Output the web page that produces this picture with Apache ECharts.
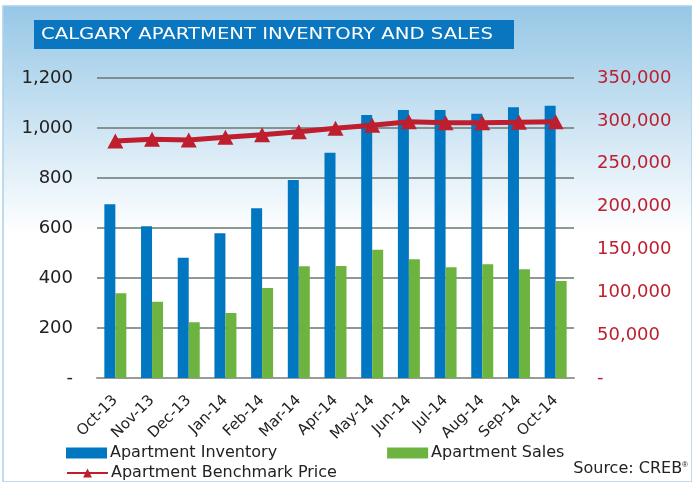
<!DOCTYPE html>
<html>
<head>
<meta charset="utf-8">
<script src="https://cdn.jsdelivr.net/npm/echarts@6/dist/echarts.min.js"></script>
<style>
  html, body { margin: 0; padding: 0; background: #fff; }
  #main { width: 692px; height: 482px; }
</style>
</head>
<body>
<div id="main"></div>
<script>
  // data
  var months = ['Oct-13', 'Nov-13', 'Dec-13', 'Jan-14', 'Feb-14', 'Mar-14', 'Apr-14',
                'May-14', 'Jun-14', 'Jul-14', 'Aug-14', 'Sep-14', 'Oct-14'];
  var inventory = [695, 607, 481, 579, 679, 792, 901, 1052, 1072, 1072, 1057, 1083, 1089];
  var sales = [339, 305, 223, 260, 360, 447, 448, 513, 475, 443, 455, 435, 388];
  var benchmarkPrice = [276500, 278500, 277700, 280800, 283900, 287400, 291300,
                        294800, 299000, 297900, 297900, 298300, 299000];

  var font = 'DejaVu Sans';

  function commas(v) {
    if (v === 0) return '-';
    return String(v).replace(/\B(?=(\d{3})+(?!\d))/g, ',');
  }

  var myChart = echarts.init(document.getElementById('main'));

  myChart.setOption({
    backgroundColor: '#fff',
    animation: false,
    textStyle: { fontFamily: font },
    graphic: [
      // panel with the blue fade
      {
        type: 'rect', z: -10, silent: true,
        shape: { x: 3, y: 6, width: 689, height: 476 },
        style: {
          fill: new echarts.graphic.LinearGradient(0, 0, 0, 1, [
            { offset: 0, color: '#96c7e6' },
            { offset: 0.48, color: '#ffffff' },
            { offset: 1, color: '#ffffff' }
          ]),
          stroke: '#a9d1ec', lineWidth: 1.5
        }
      },
      // title box
      {
        type: 'rect', z: 10,
        shape: { x: 34, y: 20, width: 480, height: 29 },
        style: { fill: '#0a76bf' }
      },
      {
        type: 'text', z: 11, x: 41, y: 35, scaleX: 1.19,
        style: {
          text: 'CALGARY APARTMENT INVENTORY AND SALES',
          fill: '#fff', font: '16.5px "DejaVu Sans"', verticalAlign: 'middle'
        }
      },
      {
        type: 'text', z: 11, right: 4, top: 461,
        style: {
          text: 'Source: CREB{s|®}',
          fill: '#222', font: '16px "DejaVu Sans"',
          rich: { s: { fontSize: 8, verticalAlign: 'top', fill: '#222', padding: [0, 0, 8, 0] } }
        }
      }
    ],
    grid: { left: 97, right: 118, top: 78, bottom: 104 },
    legend: [
      {
        left: 66, top: 445, padding: 0, itemWidth: 41, itemHeight: 11, itemGap: 110,
        textStyle: { fontSize: 16, color: '#222', padding: [0, 0, 0, -2] },
        data: [{ name: 'Apartment Inventory', icon: 'rect' }, { name: 'Apartment Sales', icon: 'rect' }]
      },
      {
        left: 66, top: 465, padding: 0, itemWidth: 41, itemHeight: 11,
        textStyle: { fontSize: 16, color: '#222', padding: [0, 0, 0, -2] },
        data: ['Apartment Benchmark Price']
      }
    ],
    xAxis: {
      type: 'category',
      data: months,
      axisLine: { lineStyle: { color: '#9a9a9a', width: 2 } },
      axisTick: { show: false },
      axisLabel: { rotate: 45, fontSize: 15, color: '#222', margin: 20, interval: 0 }
    },
    yAxis: [
      {
        type: 'value', min: 0, max: 1200, interval: 200,
        axisLine: { show: false }, axisTick: { show: false },
        axisLabel: { fontSize: 18, color: '#222', margin: 24, formatter: commas },
        splitLine: { lineStyle: { color: '#687770', width: 1.5 } }
      },
      {
        type: 'value', min: 0, max: 350000, interval: 50000,
        axisLine: { show: false }, axisTick: { show: false },
        axisLabel: { fontSize: 18, color: '#be1e2d', margin: 23, formatter: commas },
        splitLine: { show: false }
      }
    ],
    series: [
      {
        name: 'Apartment Inventory', type: 'bar', data: inventory,
        barWidth: 11, barGap: '0%',
        itemStyle: { color: '#0077c0' }
      },
      {
        name: 'Apartment Sales', type: 'bar', data: sales,
        barWidth: 11,
        itemStyle: { color: '#6db33f' }
      },
      {
        name: 'Apartment Benchmark Price', type: 'line', yAxisIndex: 1, data: benchmarkPrice,
        symbol: 'triangle', symbolSize: [16, 15],
        lineStyle: { color: '#be1e2d', width: 5 },
        itemStyle: { color: '#be1e2d' },
        z: 5
      }
    ]
  });
</script>
</body>
</html>
